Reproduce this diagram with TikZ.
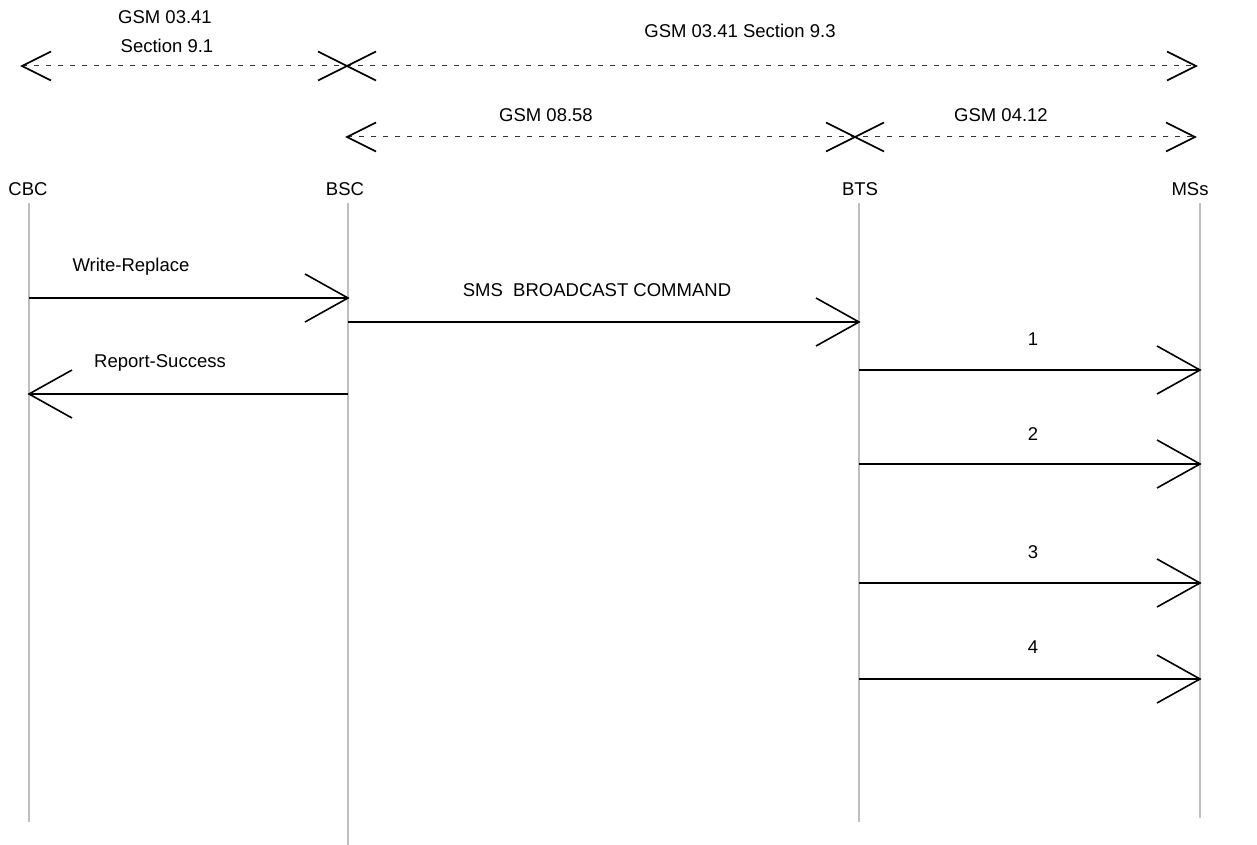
\documentclass[tikz,border=0pt]{standalone}
\usepackage{fontspec}
\setmainfont{Liberation Sans}
\begin{document}
\begin{tikzpicture}[x=1pt,y=-1pt,
  lbl/.style={inner sep=0pt,anchor=center,font=\fontsize{18.5}{21}\selectfont},
  life/.style={draw=black!25,line width=2pt},
  msg/.style={line width=2pt,black},
  headR/.style={line width=1.6pt,black,line cap=butt},
  ref/.style={line width=1pt,black!80,dash pattern=on 5pt off 7pt},
  refhead/.style={line width=1.6pt,black}]
\useasboundingbox (0,0) rectangle (1257,845);
% lifeline labels
\node[lbl] (cbc) at (28,189) {CBC};
\node[lbl] (bsc) at (345,189) {BSC};
\node[lbl] (bts) at (860,189) {BTS};
\node[lbl] (mss) at (1190,189) {MSs};
% lifelines
\coordinate (cbcT) at (29,203);  \coordinate (cbcB) at (29,822);
\coordinate (bscT) at (348,203); \coordinate (bscB) at (348,845);
\coordinate (btsT) at (859,203); \coordinate (btsB) at (859,822);
\coordinate (mssT) at (1200,203); \coordinate (mssB) at (1200,818);
\draw[life] (cbcT) -- (cbcB);
\draw[life] (bscT) -- (bscB);
\draw[life] (btsT) -- (btsB);
\draw[life] (mssT) -- (mssB);
% reference spans
\coordinate (r1L) at (22,66); \coordinate (r1M) at (347,66); \coordinate (r1R) at (1196,66);
\coordinate (r2L) at (347,137); \coordinate (r2M) at (855,137); \coordinate (r2R) at (1195,137);
\draw[ref] (r1L) -- (r1R);
\draw[ref] (r2L) -- (r2R);
\foreach \p in {r1L,r1M,r2L,r2M}{
  \draw[refhead] ([xshift=29pt,yshift=-14.5pt]\p) -- (\p) -- ([xshift=29pt,yshift=14.5pt]\p);}
\foreach \p in {r1M,r1R,r2M,r2R}{
  \draw[refhead] ([xshift=-29pt,yshift=-14.5pt]\p) -- (\p) -- ([xshift=-29pt,yshift=14.5pt]\p);}
\node[lbl] (t1a) at (165,17) {GSM 03.41};
\node[lbl] (t1b) at (167,46) {Section 9.1};
\node[lbl] (t2) at (740,31) {GSM 03.41 Section 9.3};
\node[lbl] (t3) at (546,115) {GSM 08.58};
\node[lbl] (t4) at (1001,115) {GSM 04.12};
% messages
\coordinate (wA) at (29,298);  \coordinate (wB) at (348,298);
\coordinate (sA) at (348,322); \coordinate (sB) at (859,322);
\coordinate (rA) at (348,394); \coordinate (rB) at (29,394);
\coordinate (m1A) at (859,370); \coordinate (m1B) at (1200,370);
\coordinate (m2A) at (859,464); \coordinate (m2B) at (1200,464);
\coordinate (m3A) at (859,583); \coordinate (m3B) at (1200,583);
\coordinate (m4A) at (859,679); \coordinate (m4B) at (1200,679);
\foreach \a/\b in {wA/wB,sA/sB,m1A/m1B,m2A/m2B,m3A/m3B,m4A/m4B}{
  \draw[msg] (\a) -- (\b);
  \draw[headR] ([xshift=-43pt,yshift=-24pt]\b) -- (\b) -- ([xshift=-43pt,yshift=24pt]\b);}
\draw[msg] (rA) -- (rB);
\draw[headR] ([xshift=43pt,yshift=-24pt]rB) -- (rB) -- ([xshift=43pt,yshift=24pt]rB);
\node[lbl] (lw) at (131,267) {Write-Replace};
\node[lbl] (ls) at (597,290) {SMS\ \ BROADCAST COMMAND};
\node[lbl] (lr) at (160,363) {Report-Success};
\node[lbl] (l1) at (1033,339) {1};
\node[lbl] (l2) at (1033,434) {2};
\node[lbl] (l3) at (1033,552) {3};
\node[lbl] (l4) at (1033,647) {4};
\end{tikzpicture}
\end{document}
